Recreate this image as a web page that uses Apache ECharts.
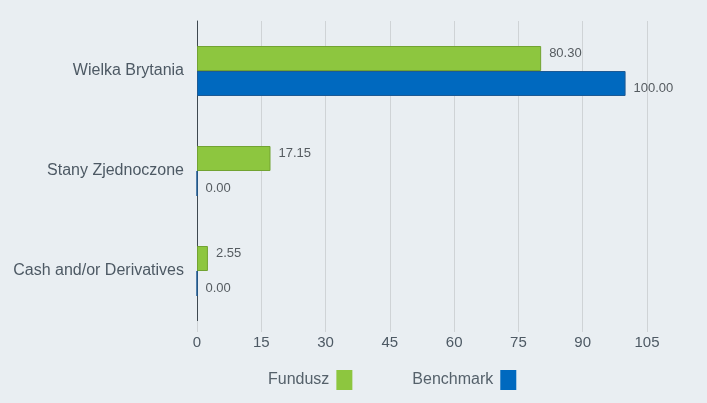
<!DOCTYPE html>
<html>
<head>
<meta charset="utf-8">
<script src="https://cdn.jsdelivr.net/npm/echarts@6/dist/echarts.min.js"></script>
<style>
html,body{margin:0;padding:0;background:#e9eef2;}
#c{width:707px;height:403px;}
</style>
</head>
<body>
<div id="c"></div>
<script>
const categories = ['Wielka Brytania', 'Stany Zjednoczone', 'Cash and/or Derivatives'];
const fundusz = [80.30, 17.15, 2.55];
const benchmark = [100.00, 0.00, 0.00];
const xTicks = [0, 15, 30, 45, 60, 75, 90, 105];

const FONT = 'Liberation Sans, Arial, sans-serif';
const chart = echarts.init(document.getElementById('c'), null, {renderer: 'canvas'});
const labelCommon = {
  show: true,
  position: 'right',
  distance: 8,
  color: '#555b60',
  fontSize: 13,
  fontFamily: FONT,
  formatter: p => p.value.toFixed(2)
};
chart.setOption({
  backgroundColor: '#e9eef2',
  animation: false,
  grid: {left: 197, top: 21, width: 450, height: 300},
  legend: {
    top: 365,
    left: 263,
    itemGap: 60,
    align: 'right',
    itemWidth: 16,
    itemHeight: 20,
    icon: 'rect',
    itemStyle: {borderWidth: 0},
    textStyle: {color: '#55616b', fontSize: 16, fontFamily: FONT, padding: [0, 2, 0, 0]},
    data: ['Fundusz', 'Benchmark']
  },
  xAxis: {
    type: 'value',
    min: xTicks[0],
    max: xTicks[xTicks.length - 1],
    interval: 15,
    axisLine: {show: false},
    axisTick: {show: true, length: 11, lineStyle: {color: '#cfd3d6'}},
    splitLine: {show: true, lineStyle: {color: '#cfd3d6', width: 1}},
    axisLabel: {color: '#4d5964', fontSize: 15, margin: 14, fontFamily: FONT}
  },
  yAxis: {
    type: 'category',
    inverse: true,
    data: categories,
    axisLine: {show: true, lineStyle: {color: '#3e4850', width: 1}},
    axisTick: {show: false},
    axisLabel: {color: '#4d5964', fontSize: 16, margin: 13, fontFamily: FONT}
  },
  series: [
    {
      name: 'Fundusz',
      type: 'bar',
      data: fundusz,
      barGap: '0%',
      barCategoryGap: '50%',
      itemStyle: {color: '#8dc63f', borderColor: '#72a332', borderWidth: 1},
      label: Object.assign({}, labelCommon, {offset: [0, -5]})
    },
    {
      name: 'Benchmark',
      type: 'bar',
      data: benchmark,
      itemStyle: {color: '#0069bf', borderColor: '#1d5a94', borderWidth: 1},
      label: Object.assign({}, labelCommon, {offset: [0, 5]})
    }
  ]
});
</script>
</body>
</html>
